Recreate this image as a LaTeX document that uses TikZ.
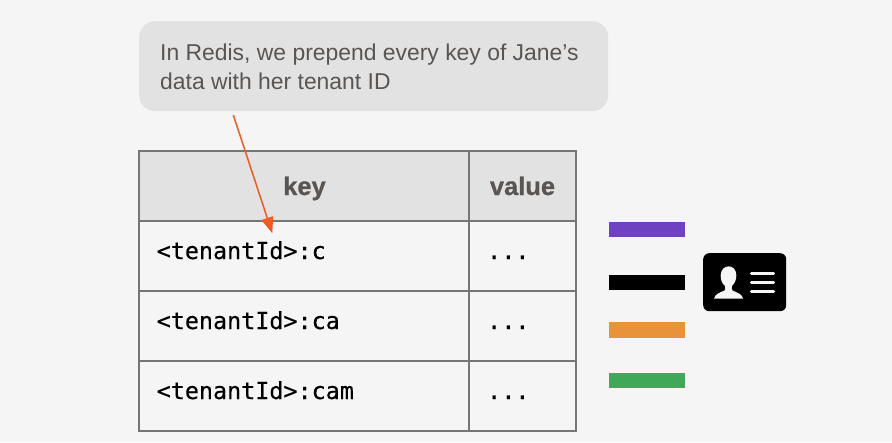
\documentclass[tikz,border=0pt]{standalone}
\usepackage{fontspec}
\setmainfont{Liberation Sans}
\setmonofont{DejaVu Sans Mono}
\usetikzlibrary{arrows.meta}
\definecolor{bgc}{HTML}{F5F5F5}
\definecolor{hdr}{HTML}{E2E2E2}
\definecolor{gridc}{HTML}{767676}
\definecolor{txtc}{HTML}{595552}
\definecolor{arr}{HTML}{EE5A24}
\definecolor{pur}{HTML}{6F42C1}
\definecolor{ora}{HTML}{E8923A}
\definecolor{gre}{HTML}{41A85A}
\tikzset{
  x=1pt,y=-1pt,
  cell/.style={draw=gridc,line width=1.4pt,minimum height=70pt,inner sep=0pt,outer sep=0pt,anchor=north west},
  head/.style={cell,fill=hdr},
  headtext/.style={anchor=base,inner sep=0pt,text=txtc,font=\bfseries\fontsize{25.5}{30}\selectfont\addfontfeatures{FakeBold=0.6}},
  keycell/.style={cell,minimum width=330pt},
  valcell/.style={cell,minimum width=107pt},
  code/.style={anchor=base west,inner sep=0pt,text=black,font=\ttfamily\fontsize{23.4}{28}\selectfont\addfontfeatures{FakeBold=0.3}},
  notetext/.style={anchor=base west,inner sep=0pt,text=txtc,font=\fontsize{22.9}{28}\selectfont},
  bar/.style={anchor=north west,minimum width=76.5pt,minimum height=15.5pt,inner sep=0pt,outer sep=0pt},
  iconline/.style={white!96!black,line width=3.4pt,line cap=round},
}
\begin{document}
\begin{tikzpicture}
\useasboundingbox (0,0) rectangle (892,442);
\fill[bgc] (0,0) rectangle (892,442);
% callout
\node[anchor=north west,fill=hdr,rounded corners=16pt,minimum width=469pt,minimum height=90pt,inner sep=0pt] (note) at (139,21) {};
\node[notetext] (l1) at (160,60.5) {In Redis, we prepend every key of Jane’s};
\node[notetext] (l2) at (160,89) {data with her tenant ID};
% table
\node[head,keycell] (hk) at (139,151) {};
\node[head,valcell] (hv) at (469,151) {};
\node[headtext] (hkt) at (304.5,195) {key};
\node[headtext] (hvt) at (522.5,195) {value};
\node[keycell,cell] (k1) at (139,221) {};
\node[valcell,cell] (v1) at (469,221) {};
\node[keycell,cell] (k2) at (139,291) {};
\node[valcell,cell] (v2) at (469,291) {};
\node[keycell,cell] (k3) at (139,361) {};
\node[valcell,cell] (v3) at (469,361) {};
\node[code] (t1) at (156.5,259) {<tenantId>:c};
\node[code] (t2) at (156.5,329) {<tenantId>:ca};
\node[code] (t3) at (156.5,399) {<tenantId>:cam};
\node[code] (d1) at (487,259) {...};
\node[code] (d2) at (487,329) {...};
\node[code] (d3) at (487,399) {...};
% arrow
\coordinate (as) at (233.3,115);
\coordinate (ae) at (272.3,233.3);
\draw[arr,line width=1.5pt,-{Triangle[length=16pt,width=12pt]}] (as) -- (ae);
% bars
\node[bar,fill=pur] (b1) at (608.5,221.5) {};
\node[bar,fill=black] (b2) at (608.5,274.5) {};
\node[bar,fill=ora] (b3) at (608.5,322) {};
\node[bar,fill=gre] (b4) at (608.5,372.5) {};
% icon
\node[anchor=north west,fill=black,rounded corners=6pt,minimum width=83pt,minimum height=58pt,inner sep=0pt] (card) at (703,253) {};
\fill[white!96!black] (714,298.5) .. controls (715,294) and (720,292.5) .. (724.5,290.5)
  .. controls (725.5,289) and (725.5,287.5) .. (725,286)
  .. controls (721.5,283) and (720.5,279) .. (720.7,275)
  .. controls (721,264) and (736,263) .. (736.3,275)
  .. controls (736.5,279) and (735,283) .. (732,286)
  .. controls (731.5,287.5) and (731.5,289) .. (732.5,290.5)
  .. controls (737,292.5) and (742,294) .. (743,298.5) -- cycle;
\draw[iconline] (751.5,273.2) -- (773.5,273.2);
\draw[iconline] (751.5,282.2) -- (773.5,282.2);
\draw[iconline] (751.5,291.2) -- (773.5,291.2);
\end{tikzpicture}
\end{document}
